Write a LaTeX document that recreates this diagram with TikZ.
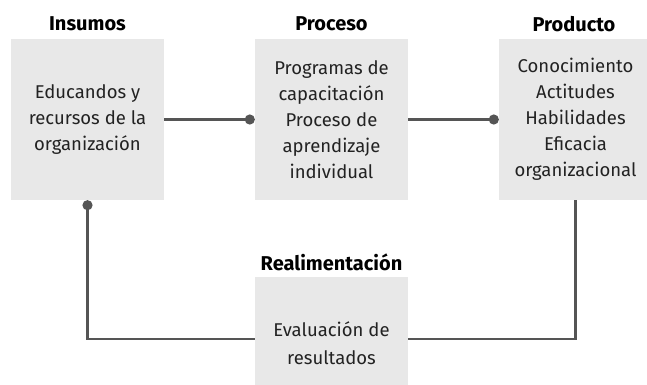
\documentclass[tikz,border=0pt]{standalone}
\usepackage{fontspec}
\setmainfont{Fira Sans}
\usetikzlibrary{arrows.meta}
\definecolor{boxgray}{HTML}{E8E8E8}
\definecolor{linegray}{HTML}{555555}
\definecolor{txt}{HTML}{222222}
\begin{document}
\begin{tikzpicture}[x=1pt,y=-1pt,
  box/.style={fill=boxgray, draw=none, minimum width=153pt, minimum height=161pt,
    inner sep=0pt, align=center, text=txt, font=\fontsize{18.5}{26}\selectfont},
  head/.style={font=\fontsize{20}{24}\selectfont\bfseries, text=black, inner sep=0pt},
  body/.style={align=center, text=txt, font=\fontsize{18.5}{28}\selectfont, inner sep=0pt},
  conn/.style={draw=linegray, line width=2.5pt, line join=miter},
  dotend/.style={-{Circle[length=10pt,width=10pt]}}]
\clip (0,0) rectangle (647,384);
\fill[white] (0,0) rectangle (647,384);
% boxes
\node[box] (ins) at (87.5,119.5) {Educandos y\\recursos de la\\organización};
\node[box, yshift=-1pt] (pro) at (331.5,118.5) {Programas de\\capacitación\\Proceso de\\aprendizaje\\individual};
\node[box, yshift=-1pt] (prod) at (575.5,118.5) {Conocimiento\\Actitudes\\Habilidades\\Eficacia\\organizacional};
\node[box, minimum height=124pt] (eval) at (331.5,339) {};
\node[body] (evaltxt) at (331.5,343) {Evaluación de\\resultados};
% headings
\node[head] (hins) at (87.5,24) {Insumos};
\node[head] (hpro) at (331.5,24) {Proceso};
\node[head] (hprod) at (574,24) {Producto};
\node[head] (hfb) at (331.5,262) {Realimentación};
% connectors
\draw[conn, dotend] (ins.east) -- (pro.west);
\draw[conn, dotend] (pro.east) -- (prod.west);
\draw[conn] (prod.south) |- (eval.east);
\draw[conn, dotend] (eval.west) -| (ins.south);
\end{tikzpicture}
\end{document}
